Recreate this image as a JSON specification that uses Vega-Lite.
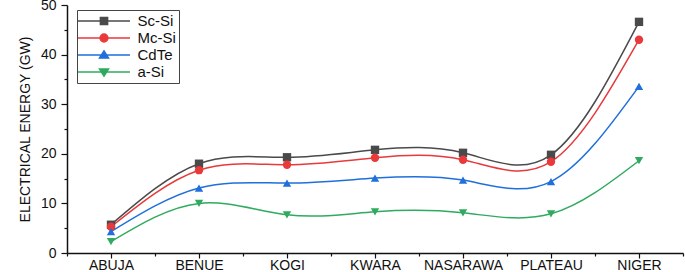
{
  "$schema": "https://vega.github.io/schema/vega-lite/v6.json",
  "autosize": {"type": "none"},
  "padding": {"left": 67, "top": 5, "right": 2, "bottom": 19},
  "width": 616,
  "height": 248,
  "background": "white",
  "config": {
    "view": {"stroke": null},
    "font": "Liberation Sans",
    "axis": {
      "domainColor": "#111",
      "domainWidth": 1.5,
      "tickColor": "#111",
      "tickWidth": 1.2,
      "labelColor": "#111",
      "labelFont": "Liberation Sans",
      "labelFontSize": 14,
      "grid": false
    },
    "legend": {
      "orient": "none",
      "legendX": 10,
      "legendY": 5,
      "strokeColor": "#444",
      "padding": 2.5,
      "rowPadding": 0,
      "symbolSize": 225,
      "symbolStrokeWidth": 1.5,
      "symbolOpacity": 1,
      "symbolOffset": 16,
      "labelOffset": 25,
      "labelFontSize": 15,
      "labelColor": "#111",
      "labelFont": "Liberation Sans"
    }
  },
  "data": {
    "values": [
      {"region": "ABUJA", "idx": 1, "series": "Sc-Si", "value": 5.7},
      {"region": "BENUE", "idx": 2, "series": "Sc-Si", "value": 18.0},
      {"region": "KOGI", "idx": 3, "series": "Sc-Si", "value": 19.3},
      {"region": "KWARA", "idx": 4, "series": "Sc-Si", "value": 20.8},
      {"region": "NASARAWA", "idx": 5, "series": "Sc-Si", "value": 20.2},
      {"region": "PLATEAU", "idx": 6, "series": "Sc-Si", "value": 19.8},
      {"region": "NIGER", "idx": 7, "series": "Sc-Si", "value": 46.6},
      {"region": "ABUJA", "idx": 1, "series": "Mc-Si", "value": 5.3},
      {"region": "BENUE", "idx": 2, "series": "Mc-Si", "value": 16.7},
      {"region": "KOGI", "idx": 3, "series": "Mc-Si", "value": 17.8},
      {"region": "KWARA", "idx": 4, "series": "Mc-Si", "value": 19.2},
      {"region": "NASARAWA", "idx": 5, "series": "Mc-Si", "value": 18.8},
      {"region": "PLATEAU", "idx": 6, "series": "Mc-Si", "value": 18.4},
      {"region": "NIGER", "idx": 7, "series": "Mc-Si", "value": 43.0},
      {"region": "ABUJA", "idx": 1, "series": "CdTe", "value": 4.3},
      {"region": "BENUE", "idx": 2, "series": "CdTe", "value": 13.1},
      {"region": "KOGI", "idx": 3, "series": "CdTe", "value": 14.1},
      {"region": "KWARA", "idx": 4, "series": "CdTe", "value": 15.1},
      {"region": "NASARAWA", "idx": 5, "series": "CdTe", "value": 14.7},
      {"region": "PLATEAU", "idx": 6, "series": "CdTe", "value": 14.4},
      {"region": "NIGER", "idx": 7, "series": "CdTe", "value": 33.6},
      {"region": "ABUJA", "idx": 1, "series": "a-Si", "value": 2.3},
      {"region": "BENUE", "idx": 2, "series": "a-Si", "value": 10.0},
      {"region": "KOGI", "idx": 3, "series": "a-Si", "value": 7.7},
      {"region": "KWARA", "idx": 4, "series": "a-Si", "value": 8.3},
      {"region": "NASARAWA", "idx": 5, "series": "a-Si", "value": 8.1},
      {"region": "PLATEAU", "idx": 6, "series": "a-Si", "value": 7.9},
      {"region": "NIGER", "idx": 7, "series": "a-Si", "value": 18.6}
    ]
  },
  "resolve": {
    "scale": {"shape": "independent"},
    "legend": {"color": "independent", "shape": "independent", "stroke": "independent"}
  },
  "encoding": {
    "x": {
      "field": "idx",
      "type": "quantitative",
      "scale": {"domain": [0.5, 7.5], "nice": false, "zero": false},
      "axis": {
        "title": null,
        "values": [0.5, 1, 1.5, 2, 2.5, 3, 3.5, 4, 4.5, 5, 5.5, 6, 6.5, 7, 7.5],
        "labelExpr": "datum.value % 1 == 0 ? ['ABUJA','BENUE','KOGI','KWARA','NASARAWA','PLATEAU','NIGER'][datum.value - 1] : ''",
        "labelOverlap": false,
        "labelFlush": false,
        "labelFontSize": 14,
        "labelPadding": 0,
        "tickSize": {"condition": {"test": "datum.value % 1 == 0", "value": 5}, "value": 3}
      }
    },
    "y": {
      "field": "value",
      "type": "quantitative",
      "scale": {"domain": [0, 50], "nice": false},
      "axis": {
        "title": "ELECTRICAL ENERGY (GW)",
        "titleFont": "Liberation Sans",
        "titleFontSize": 14,
        "titleFontWeight": "normal",
        "titleColor": "#111",
        "titlePadding": 8,
        "values": [0, 5, 10, 15, 20, 25, 30, 35, 40, 45, 50],
        "labelExpr": "datum.value % 10 == 0 ? datum.label : ''",
        "labelPadding": 5,
        "labelFlush": false,
        "tickSize": {"condition": {"test": "datum.value % 10 == 0", "value": 6}, "value": 3}
      }
    },
    "color": {
      "field": "series",
      "type": "nominal",
      "title": null,
      "scale": {
        "domain": ["Sc-Si", "Mc-Si", "CdTe", "a-Si"],
        "range": ["#4a4a4a", "#e8393b", "#1f6fdc", "#2faa5e"]
      }
    }
  },
  "layer": [
    {
      "mark": {"type": "line", "interpolate": "natural", "strokeWidth": 1.5},
      "encoding": {
        "color": {"field": "series", "type": "nominal", "legend": null},
        "detail": {"field": "series"}
      }
    },
    {
      "mark": {"type": "point", "filled": true, "opacity": 1, "size": 70},
      "encoding": {
        "color": {"field": "series", "type": "nominal", "legend": null},
        "shape": {
          "field": "series",
          "type": "nominal",
          "scale": {
            "domain": ["Sc-Si", "Mc-Si", "CdTe", "a-Si"],
            "range": ["square", "circle", "triangle-up", "triangle-down"]
          },
          "legend": null
        }
      }
    },
    {
      "mark": {"type": "point", "filled": true, "opacity": 0, "strokeWidth": 1.5},
      "encoding": {
        "color": {"field": "series", "type": "nominal", "title": null},
        "stroke": {
          "field": "series",
          "type": "nominal",
          "title": null,
          "scale": {
            "domain": ["Sc-Si", "Mc-Si", "CdTe", "a-Si"],
            "range": ["#4a4a4a", "#e8393b", "#1f6fdc", "#2faa5e"]
          }
        },
        "shape": {
          "field": "series",
          "type": "nominal",
          "title": null,
          "scale": {
            "domain": ["Sc-Si", "Mc-Si", "CdTe", "a-Si"],
            "range": [
              "M-3.47,0H3.47M-0.48,-0.48H0.48V0.48H-0.48Z",
              "M-3.47,0H3.47M-0.52,0A0.52,0.52,0,1,0,0.52,0A0.52,0.52,0,1,0,-0.52,0Z",
              "M-3.47,0H3.47M0,-0.55L0.6,0.4L-0.6,0.4Z",
              "M-3.47,0H3.47M0,0.55L0.6,-0.4L-0.6,-0.4Z"
            ]
          }
        }
      }
    }
  ]
}
